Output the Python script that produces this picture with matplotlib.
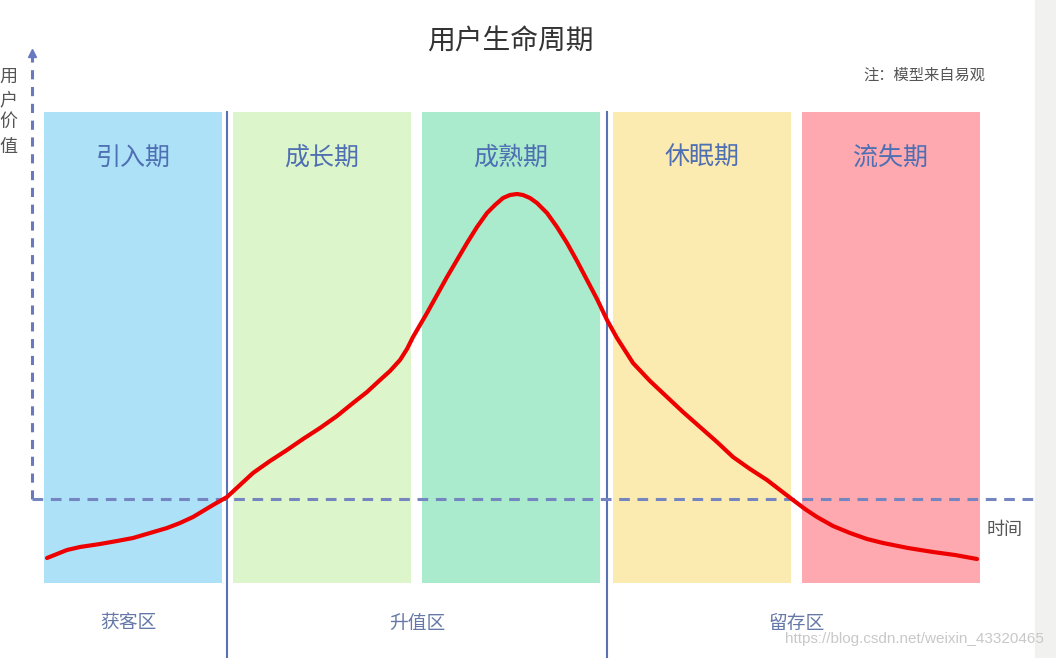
import numpy as np
import matplotlib
matplotlib.use("Agg")
from matplotlib import pyplot as plt

plt.rcParams['font.family'] = ['Noto Sans CJK SC', 'DejaVu Sans']

# stages (x in time units, origin at the value axis)
stage_names = ['引入期', '成长期', '成熟期', '休眠期', '流失期']
stage_starts = [1.2, 20.1, 39.0, 58.1, 77.0]
stage_width = 17.8
stage_colors = ['#ade1f8', '#ddf5ca', '#a9ebcc', '#fcebb1', '#fea9b0']
stage_top = 38.7
stage_bottom = -8.4

# zones below the stages
zone_names = ['获客区', '升值区', '留存区']
zone_centers = [9.6, 38.5, 76.5]
zone_bounds = [19.5, 57.5]

# user value curve
curve_t = [1.5, 3.5, 4.8, 6.8, 8.5, 10.1, 11.8, 13.5, 14.8, 16.1, 17.1, 18.1,
           19.5, 20.8, 22.1, 23.8, 25.5, 27.1, 28.8, 30.5, 32.1, 33.5, 34.8,
           35.8, 36.8, 37.5, 38.1, 38.8, 39.5, 40.5, 41.5, 42.5, 43.5, 44.5,
           45.5, 46.3, 47.1, 47.8, 48.5, 49.1, 49.8, 50.5, 51.5, 52.5, 53.5,
           54.5, 55.5, 56.5, 57.5, 58.5, 60.1, 61.8, 63.5, 65.1, 66.8, 68.5,
           70.1, 71.8, 73.5, 74.8, 76.1, 77.3, 78.5, 80.1, 81.8, 83.5, 85.1,
           87.6, 90.1, 92.3, 94.5]
curve_v = [-5.9, -5.1, -4.8, -4.5, -4.2, -3.9, -3.4, -2.9, -2.4, -1.8, -1.2, -0.6,
           0.2, 1.4, 2.6, 3.8, 4.9, 6.0, 7.1, 8.3, 9.6, 10.7, 11.9,
           12.8, 13.9, 15.0, 16.2, 17.4, 18.6, 20.4, 22.2, 23.9, 25.6, 27.2,
           28.6, 29.4, 30.1, 30.4, 30.5, 30.4, 30.1, 29.6, 28.6, 27.2, 25.6,
           23.8, 21.9, 20.0, 17.9, 16.1, 13.6, 11.8, 10.2, 8.7, 7.2, 5.7,
           4.2, 3.0, 1.9, 0.9, -0.1, -1.0, -1.8, -2.7, -3.4, -4.0, -4.4,
           -4.9, -5.3, -5.6, -6.0]

fig = plt.figure(figsize=(10.56, 6.58), dpi=100)
ax = fig.add_axes([0, 0, 1, 1])
ax.set_xlim(-3.2, 102.4)
ax.set_ylim(-15.9, 49.9)
ax.axis('off')

# grey strip on the right edge
ax.axvspan(100.3, 102.4, color='#f1f1ef', zorder=0)

# stage panels
for name, x0, c in zip(stage_names, stage_starts, stage_colors):
    ax.bar(x0, stage_top - stage_bottom, bottom=stage_bottom, width=stage_width,
           align='edge', color=c, zorder=1)
    ax.text(x0 + stage_width / 2, 34.1, name, ha='center', va='center',
            fontsize=18, color='#4f6fb3', zorder=5)

# zone separators
for xb in zone_bounds:
    ax.plot([xb, xb], [stage_top, -15.9], color='#5a72b4', lw=1.5, zorder=3)
for name, xc in zip(zone_names, zone_centers):
    ax.text(xc, -12.4, name, ha='center', va='center', fontsize=13.5,
            color='#6578a8', zorder=5)

# axes (dashed)
ax.plot([0, 0], [0, 44.2], color='#6a78c0', lw=2.2, ls=(0, (3, 2.5)), zorder=3)
ax.plot([0], [44.6], marker='^', color='#6a78c0', markersize=6, zorder=3)
ax.plot([0, 100.3], [0, 0], color='#7585c0', lw=2.2, ls=(0, (3.5, 2.5)), zorder=3)

# curve
ax.plot(curve_t, curve_v, color='#ee0000', lw=3, solid_capstyle='round',
        solid_joinstyle='round', zorder=4)

# texts
ax.text(47.8, 45.7, '用户生命周期', ha='center', va='center', fontsize=20, color='#333333')
ax.text(89.2, 42.4, '注：模型来自易观', ha='center', va='center', fontsize=11, color='#555555')
for ch, yy in zip('用户价值', [42.2, 39.9, 37.7, 35.2]):
    ax.text(-2.4, yy, ch, ha='center', va='center', fontsize=13, color='#555555')
ax.text(97.3, -3.1, '时间', ha='center', va='center', fontsize=13, color='#555555')
ax.text(101.2, -14.0, 'https://blog.csdn.net/weixin_43320465', ha='right', va='center',
        fontsize=11, color='#c8c8c8', family=['Liberation Sans', 'DejaVu Sans'], zorder=6)

plt.savefig("out.png", dpi=100)
